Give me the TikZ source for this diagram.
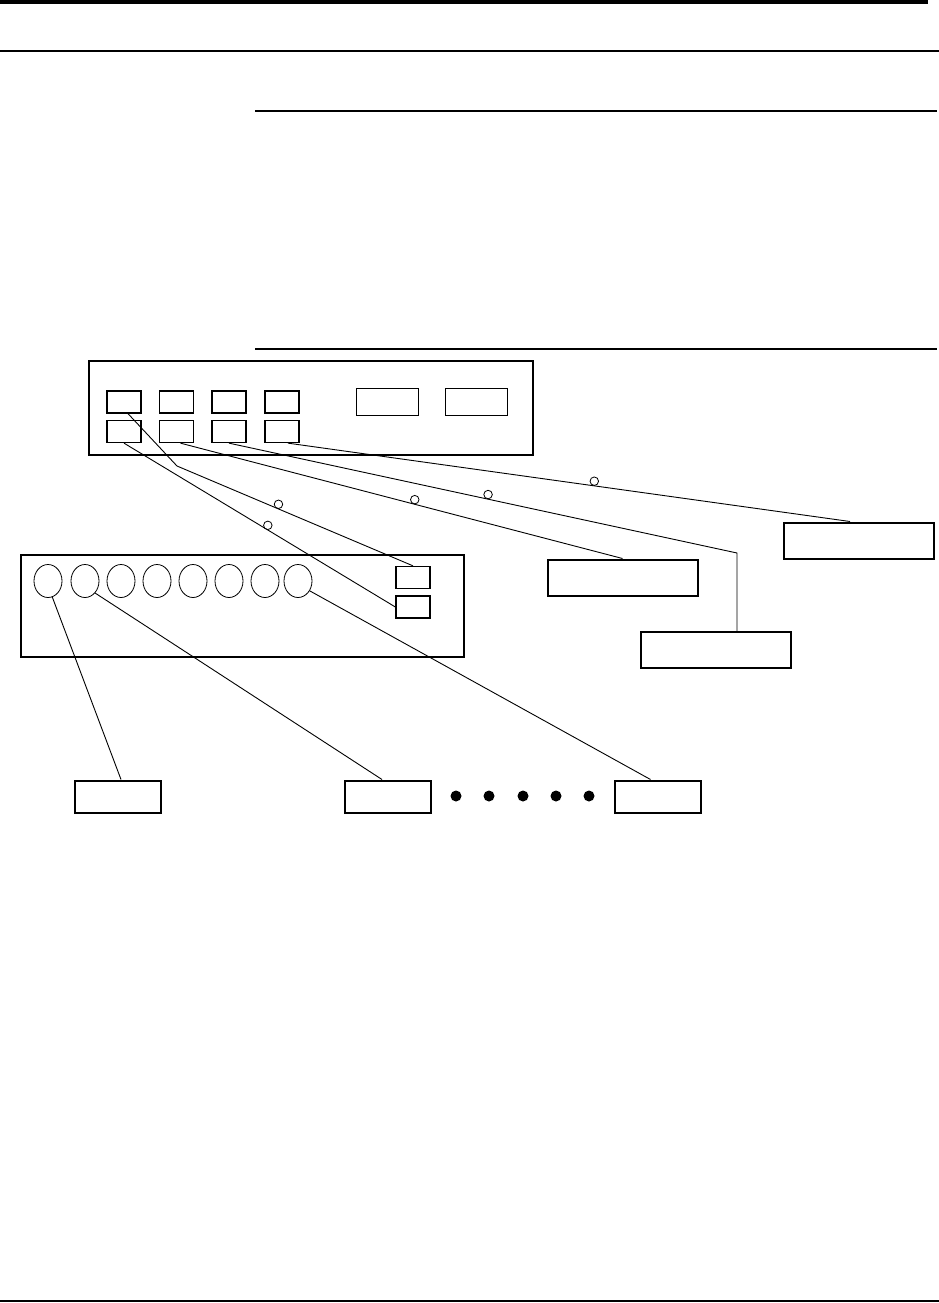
\documentclass[tikz,border=0pt]{standalone}
\usetikzlibrary{shapes.geometric}
\begin{document}
\begin{tikzpicture}[x=1pt,y=-1pt,
  panel/.style={draw,line width=2pt},
  port/.style={draw,line width=1.3pt,inner sep=0pt,minimum width=34pt,minimum height=22pt},
  slot/.style={draw,line width=1.3pt,inner sep=0pt,minimum width=62pt,minimum height=27pt},
  jack/.style={draw,ellipse,line width=0.8pt,inner sep=0pt,minimum width=28pt,minimum height=33pt},
  unit/.style={draw,line width=2pt,inner sep=0pt,minimum width=150pt,minimum height=36pt},
  endbox/.style={draw,line width=2pt,inner sep=0pt,minimum width=86pt,minimum height=32pt},
  ring/.style={draw,circle,line width=0.8pt,inner sep=0pt,minimum size=8.5pt,anchor=south},
  dot/.style={fill,circle,inner sep=0pt,minimum width=11pt,minimum height=10pt},
  wire/.style={line width=0.9pt}]
\useasboundingbox (0,0) rectangle (939,1303);
% page rules
\draw[line width=4pt] (0,2) -- (928,2);
\draw[line width=1.5pt] (0,51) -- (939,51);
\draw[line width=1.5pt] (255,111) -- (937,111);
\draw[line width=1.5pt] (255,349) -- (937,349);
\draw[line width=1.5pt] (0,1301) -- (939,1301);
% upper panel
\draw[panel] (89,361) rectangle (533,455);
\node[port] (a1) at (124,402) {};
\node[port] (a2) at (176.5,402) {};
\node[port] (a3) at (229,402) {};
\node[port] (a4) at (282,402) {};
\node[port] (b1) at (124,431.5) {};
\node[port] (b2) at (176.5,431.5) {};
\node[port] (b3) at (229,431.5) {};
\node[port] (b4) at (282,431.5) {};
\node[slot] (s1) at (387.5,402) {};
\node[slot] (s2) at (476.5,402) {};
% lower panel
\draw[panel] (21,555) rectangle (464,657);
\foreach \i/\x in {1/48,2/85,3/121,4/157,5/193,6/229,7/265,8/298}
  \node[jack] (j\i) at (\x,581) {};
\node[port] (q1) at (413,577.5) {};
\node[port] (q2) at (413,607) {};
% right boxes
\node[unit] (ua) at (859,540.5) {};
\node[unit] (ub) at (622.5,577.5) {};
\node[unit] (uc) at (716,650) {};
% bottom boxes
\node[endbox] (e1) at (118,796.5) {};
\node[endbox] (e2) at (388,796.5) {};
\node[endbox] (e3) at (657.5,796.5) {};
\foreach \i/\x in {1/456,2/489,3/523,4/556,5/589}
  \node[dot] (d\i) at (\x,796) {};
% wires
\coordinate (k1) at (177,466);
\coordinate (k2) at (737,553);
\draw[wire] ([xshift=4pt]a1.south) -- (k1) -- node[ring,pos=0.43]{} (q1.north);
\draw[wire] (b1.south) -- node[ring,pos=0.53]{} (q2.west);
\draw[wire] ([xshift=4pt]b2.south) -- node[ring,pos=0.53]{} (ub.north);
\draw[wire] (b3.south) -- node[ring,pos=0.51]{} (k2) -- (k2 |- uc.north);
\draw[wire] ([xshift=6pt]b4.south) -- node[ring,pos=0.545]{} ([xshift=-9pt]ua.north);
\draw[wire] (j1.-75) -- ([xshift=3pt]e1.north);
\draw[wire] (j2.-50) -- ([xshift=-6pt]e2.north);
\draw[wire] (j8.-40) -- ([xshift=-7pt]e3.north);
\end{tikzpicture}
\end{document}
